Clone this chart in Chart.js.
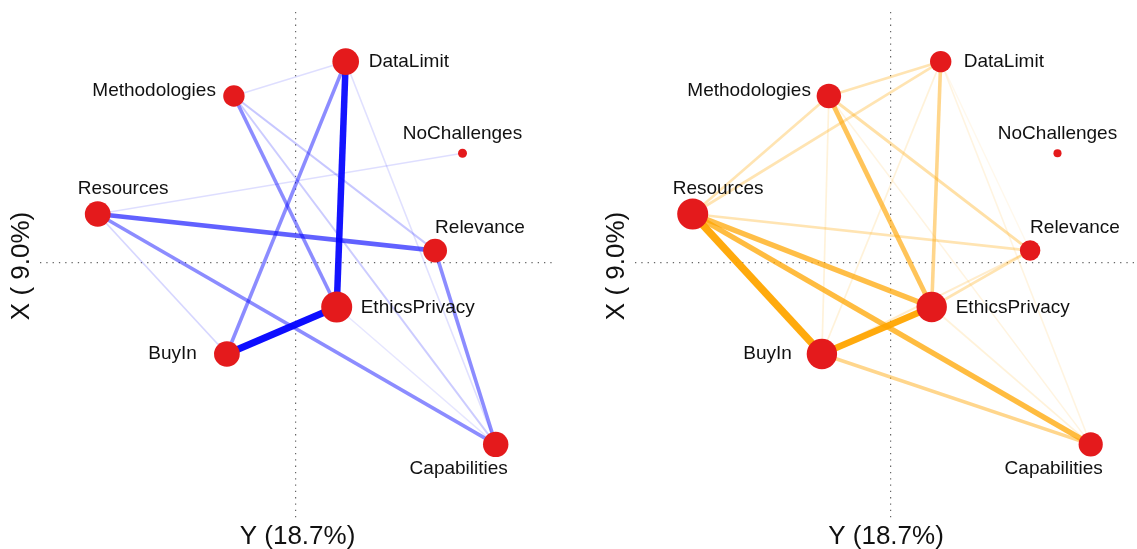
<!DOCTYPE html>
<html>
<head>
<meta charset="utf-8">
<script src="https://cdn.jsdelivr.net/npm/chart.js@4"></script>
<style>
  html, body { margin: 0; padding: 0; background: #fff; overflow: hidden; }
  canvas { position: absolute; top: 0; }
</style>
</head>
<body>
<canvas id="netLeft" width="568" height="549" style="left:0"></canvas>
<canvas id="netRight" width="542" height="549" style="left:595px"></canvas>
<script>
// node names and their coordinates (same layout in both plots)
const nodes  = ['DataLimit', 'Methodologies', 'NoChallenges', 'Resources', 'Relevance', 'EthicsPrivacy', 'BuyIn', 'Capabilities'];
const nodeX  = [0.252, -0.307, 0.836, -0.988, 0.699, 0.207, -0.342, 1.002];
const nodeY  = [1.006, 0.834, 0.548, 0.244, 0.061, -0.221, -0.456, -0.908];

// node strength for each plot
const strengthLeft  = [0.86, 0.69, 0.29, 0.83, 0.77, 1.00, 0.83, 0.82];
const strengthRight = [0.69, 0.79, 0.26, 1.00, 0.66, 0.98, 0.98, 0.78];

// edges: [from, to, weight]
const edgesLeft = [
    ['EthicsPrivacy', 'Capabilities', 0.10],
    ['DataLimit', 'Capabilities', 0.12],
    ['Methodologies', 'DataLimit', 0.13],
    ['Resources', 'NoChallenges', 0.13],
    ['Resources', 'BuyIn', 0.16],
    ['Methodologies', 'Capabilities', 0.20],
    ['Methodologies', 'Relevance', 0.22],
    ['Methodologies', 'EthicsPrivacy', 0.45],
    ['DataLimit', 'BuyIn', 0.45],
    ['Resources', 'Capabilities', 0.45],
    ['Relevance', 'Capabilities', 0.45],
    ['Resources', 'Relevance', 0.62],
    ['DataLimit', 'EthicsPrivacy', 0.92],
    ['BuyIn', 'EthicsPrivacy', 1.00]
];
const edgesRight = [
    ['DataLimit', 'Relevance', 0.08],
    ['DataLimit', 'Capabilities', 0.12],
    ['Methodologies', 'Capabilities', 0.12],
    ['EthicsPrivacy', 'Capabilities', 0.15],
    ['Methodologies', 'BuyIn', 0.15],
    ['DataLimit', 'BuyIn', 0.15],
    ['BuyIn', 'Relevance', 0.20],
    ['Resources', 'Methodologies', 0.30],
    ['Resources', 'DataLimit', 0.30],
    ['Methodologies', 'DataLimit', 0.30],
    ['Resources', 'Relevance', 0.30],
    ['Relevance', 'EthicsPrivacy', 0.30],
    ['Methodologies', 'Relevance', 0.35],
    ['DataLimit', 'EthicsPrivacy', 0.45],
    ['BuyIn', 'Capabilities', 0.45],
    ['Methodologies', 'EthicsPrivacy', 0.65],
    ['Resources', 'EthicsPrivacy', 0.72],
    ['Resources', 'Capabilities', 0.75],
    ['BuyIn', 'EthicsPrivacy', 0.95],
    ['Resources', 'BuyIn', 1.10]
];

const axisTitleX = 'Y (18.7%)';
const axisTitleY = 'X ( 9.0%)';

// label placement around each node
const labelPlace = {
    DataLimit:     { dx: 23,  dy: 0,   align: 'left' },
    Methodologies: { dx: -18, dy: -5,  align: 'right' },
    NoChallenges:  { dx: 0,   dy: -19, align: 'center' },
    Resources:     { dx: -20, dy: -25, align: 'left' },
    Relevance:     { dx: 0,   dy: -23, align: 'left' },
    EthicsPrivacy: { dx: 24,  dy: 1,   align: 'left' },
    BuyIn:         { dx: -30, dy: 0,   align: 'right' },
    Capabilities:  { dx: -37, dy: 24,  align: 'center' }
};

const FONT = '"Liberation Sans", Arial, sans-serif';

const nodeLabels = {
    id: 'nodeLabels',
    afterDatasetsDraw(chart) {
        const ctx = chart.ctx;
        const xs = chart.scales.x, ys = chart.scales.y;
        ctx.save();
        ctx.font = '19px ' + FONT;
        ctx.fillStyle = '#111';
        ctx.textBaseline = 'middle';
        nodes.forEach((name, i) => {
            const p = labelPlace[name];
            ctx.textAlign = p.align;
            ctx.fillText(name, xs.getPixelForValue(nodeX[i]) + p.dx, ys.getPixelForValue(nodeY[i]) + p.dy);
        });
        ctx.restore();
    }
};

function makeNetwork(canvasId, edges, strength, rgb, xMax, padRight) {
    const idx = name => nodes.indexOf(name);
    const edgeSets = edges.map(([a, b, w]) => ({
        type: 'line',
        data: [{ x: nodeX[idx(a)], y: nodeY[idx(a)] }, { x: nodeX[idx(b)], y: nodeY[idx(b)] }],
        borderColor: `rgba(${rgb}, ${Math.min(0.95, w)})`,
        borderWidth: 0.8 + 6.2 * w,
        pointRadius: 0,
        fill: false,
        tension: 0,
        order: 1
    }));

    const nodeSet = {
        type: 'scatter',
        data: nodes.map((n, i) => ({ x: nodeX[i], y: nodeY[i] })),
        pointRadius: strength.map(s => s * 15.5),
        pointHoverRadius: strength.map(s => s * 15.5),
        backgroundColor: '#E41A1C',
        borderWidth: 0,
        order: 0
    };

    const zeroOnly = s => { s.ticks = [{ value: 0 }]; };
    const gridOpts = { color: 'rgba(85,85,85,0.9)', lineWidth: 1.2, drawTicks: false };
    const borderOpts = { display: false, dash: [1.3, 5] };

    return new Chart(document.getElementById(canvasId), {
        type: 'scatter',
        data: { datasets: [nodeSet, ...edgeSets] },
        options: {
            responsive: false,
            animation: false,
            devicePixelRatio: 1,
            layout: { autoPadding: false, padding: { top: 12, right: padRight, bottom: 0, left: 0 } },
            plugins: { legend: { display: false }, tooltip: { enabled: false } },
            scales: {
                x: {
                    type: 'linear', min: -1.2765, max: xMax,
                    afterBuildTicks: zeroOnly,
                    ticks: { display: false },
                    grid: gridOpts, border: borderOpts,
                    title: { display: true, text: axisTitleX, color: '#111',
                             font: { family: FONT, size: 26, lineHeight: 0.9 },
                             padding: { top: 5.3, bottom: 0.3 } }
                },
                y: {
                    type: 'linear', min: -1.286, max: 1.254,
                    afterBuildTicks: zeroOnly,
                    ticks: { display: false },
                    grid: gridOpts, border: borderOpts,
                    title: { display: true, text: axisTitleY, color: '#111',
                             font: { family: FONT, size: 26, lineHeight: 0.9 },
                             padding: { top: 10.3, bottom: 6.3 } }
                }
            }
        },
        plugins: [nodeLabels]
    });
}

makeNetwork('netLeft', edgesLeft, strengthLeft, '0, 0, 255', 1.2985, 13);
makeNetwork('netRight', edgesRight, strengthRight, '255, 165, 0', 1.2335, 0);
</script>
</body>
</html>
